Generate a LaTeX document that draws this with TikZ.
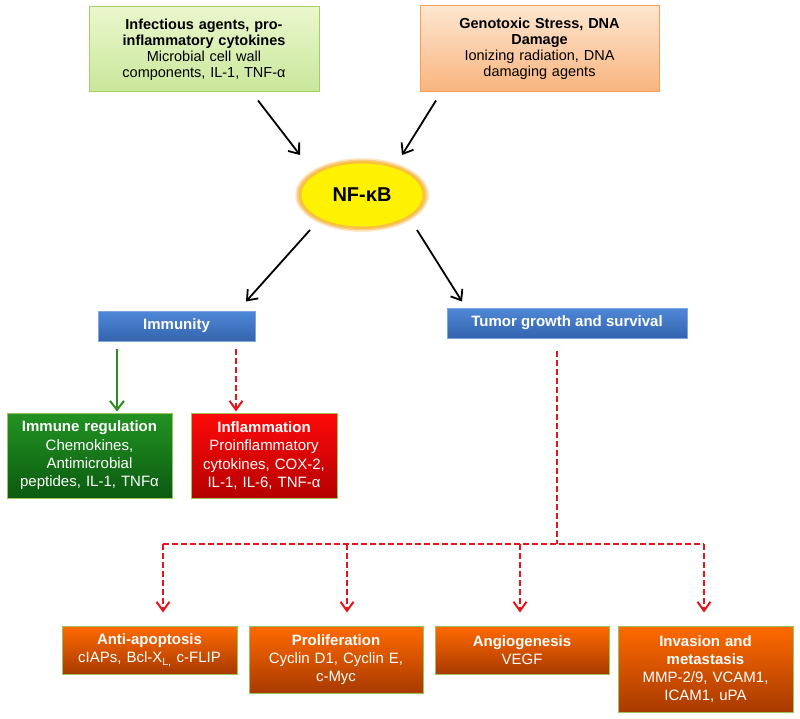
\documentclass[tikz,border=0pt]{standalone}
\usepackage{fontspec}
\setmainfont{Liberation Sans}
\usetikzlibrary{arrows.meta,calc,shapes.geometric}
\definecolor{agTop}{HTML}{EAF7CC}
\definecolor{agBot}{HTML}{C9E79B}
\definecolor{agBrd}{HTML}{A2CF65}
\definecolor{gsTop}{HTML}{FDE6D0}
\definecolor{gsBot}{HTML}{F9B47E}
\definecolor{gsBrd}{HTML}{F6A05A}
\definecolor{blTop}{HTML}{4F88D8}
\definecolor{blBot}{HTML}{3464AD}
\definecolor{blBrd}{HTML}{7FA6DC}
\definecolor{grTop}{HTML}{229322}
\definecolor{grBot}{HTML}{0B5A10}
\definecolor{rdTop}{HTML}{FF0A0A}
\definecolor{rdBot}{HTML}{B40000}
\definecolor{orTop}{HTML}{FF6A00}
\definecolor{orBot}{HTML}{A83A00}
\definecolor{olBrd}{HTML}{9CC25E}
\definecolor{dashRed}{HTML}{E8141C}
\definecolor{arrGreen}{HTML}{2E8B1E}
\definecolor{glow}{HTML}{F5B041}
\begin{document}
\begin{tikzpicture}[x=1pt,y=-1pt,
  bx/.style={rectangle, line width=1pt, align=center, inner sep=0pt},
  topA/.style={bx, draw=agBrd, top color=agTop, bottom color=agBot, text=black,
     font=\fontsize{14.5}{15.9}\selectfont},
  topB/.style={bx, draw=gsBrd, top color=gsTop, bottom color=gsBot, text=black,
     font=\fontsize{14.5}{15.9}\selectfont},
  bluebox/.style={bx, draw=blBrd, top color=blTop, bottom color=blBot, text=white,
     font=\bfseries\fontsize{15}{18}\selectfont},
  greenbox/.style={bx, draw=olBrd, top color=grTop, bottom color=grBot, text=white,
     font=\fontsize{15}{18.3}\selectfont},
  redbox/.style={bx, draw=olBrd, top color=rdTop, bottom color=rdBot, text=white,
     font=\fontsize{15}{18.3}\selectfont},
  orbox/.style={bx, draw=olBrd, top color=orTop, bottom color=orBot, text=white,
     font=\fontsize{15}{18.3}\selectfont},
  arr/.style={-{Straight Barb[length=9pt,width=14pt]}, line width=1.8pt, black},
  garr/.style={-{Straight Barb[length=9pt,width=14pt]}, line width=2pt, arrGreen},
  rline/.style={line width=2pt, dashRed, dash pattern=on 6pt off 3pt},
  rarr/.style={rline, -{Straight Barb[length=9pt,width=13pt]}},
]
\useasboundingbox (0,0) rectangle (800,719);

% top boxes
\node[topA, minimum width=230, minimum height=85, text width=224] (A) at (204,49.5)
  {\textbf{Infectious agents, pro-}\\\textbf{inflammatory cytokines}\\Microbial cell wall\\components, IL-1, TNF-α};
\node[topB, minimum width=239, minimum height=86, text width=232] (B) at (539.5,49)
  {\textbf{Genotoxic Stress, DNA}\\\textbf{Damage}\\Ionizing radiation, DNA\\damaging agents};

% NF-kB glow ellipse
\fill[glow, opacity=0.25] (362,195) ellipse [x radius=67, y radius=37];
\fill[glow, opacity=0.5] (362,195) ellipse [x radius=65.5, y radius=35.5];
\fill[glow!80!yellow, opacity=0.85] (362,195) ellipse [x radius=63.5, y radius=34];
\node[ellipse, fill=yellow, minimum width=121, minimum height=63, inner sep=0pt,
      font=\bfseries\fontsize{20}{22}\selectfont] (NF) at (362,195) {NF-κB};

% middle boxes
\node[bluebox, minimum width=157, minimum height=30] (Imm) at (176.5,326) {Immunity};
\node[bluebox, minimum width=240, minimum height=30] (Tum) at (567,323) {Tumor growth and survival};

\node[greenbox, minimum width=165, minimum height=85, text width=160] (Gr) at (89.5,455.5)
  {\textbf{Immune regulation}\\Chemokines,\\Antimicrobial\\peptides, IL-1, TNFα};
\node[redbox, minimum width=146, minimum height=85, text width=142] (Rd) at (264,455.5)
  {\textbf{Inflammation}\\Proinflammatory\\cytokines, COX-2,\\IL-1, IL-6, TNF-α};

% bottom boxes
\node[orbox, minimum width=175, minimum height=48, text width=170] (Anti) at (149.5,650)
  {\textbf{Anti-apoptosis}\\cIAPs, Bcl-X\textsubscript{L,} c-FLIP};
\node[orbox, minimum width=174, minimum height=67, text width=170] (Prol) at (336,659.5)
  {\textbf{Proliferation}\\Cyclin D1, Cyclin E,\\c-Myc};
\node[orbox, minimum width=174, minimum height=48, text width=170] (Ang) at (522,650)
  {\textbf{Angiogenesis}\\VEGF};
\node[orbox, minimum width=175, minimum height=86, text width=170] (Inv) at (705.5,669)
  {\textbf{Invasion and}\\\textbf{metastasis}\\MMP-2/9, VCAM1,\\ICAM1, uPA};

% black arrows
\draw[arr] ([shift={(54,8)}]A.south) -- ([shift={(-62,-40)}]NF.center);
\draw[arr] ([shift={(-103.5,8)}]B.south) -- ([shift={(40,-40)}]NF.center);
\draw[arr] ([shift={(-52,35)}]NF.center) -- ([shift={(69.5,-9)}]Imm.north);
\draw[arr] ([shift={(55,35)}]NF.center) -- ([shift={(-105,-6)}]Tum.north);

% immunity branches
\draw[garr] ([shift={(-59.5,7)}]Imm.south) -- ([shift={(27.5,-1)}]Gr.north);
\draw[rarr] ([shift={(59.5,7)}]Imm.south) -- ([shift={(-28,-1)}]Rd.north);

% tumor branches
\coordinate (J) at (557,544);
\coordinate (hA) at (163,544);
\coordinate (hP) at (347,544);
\coordinate (hG) at (520,544);
\coordinate (hI) at (704,544);
\draw[rline] ([shift={(-10,12)}]Tum.south) -- (J);
\draw[rline] (hA) -- (hI);
\draw[rarr] (hA) -- ([shift={(13.5,-13)}]Anti.north);
\draw[rarr] (hP) -- ([shift={(11,-13)}]Prol.north);
\draw[rarr] (hG) -- ([shift={(-2,-13)}]Ang.north);
\draw[rarr] (hI) -- ([shift={(-1.5,-13)}]Inv.north);
\end{tikzpicture}
\end{document}
